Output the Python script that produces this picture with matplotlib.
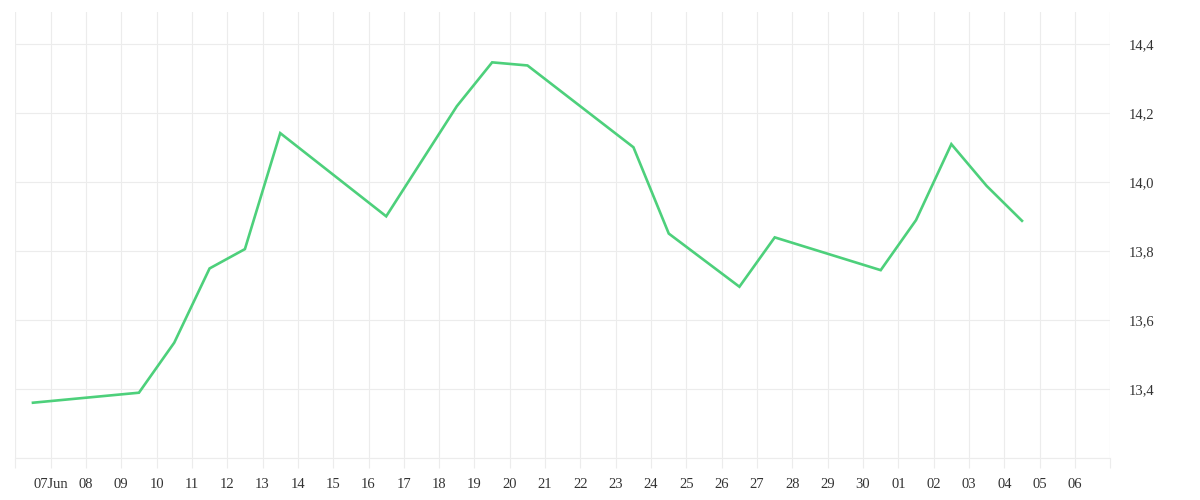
import matplotlib
matplotlib.use("Agg")
import matplotlib.pyplot as plt
import datetime as dt

# data (timestamps at mid-day)
dates = ["2024-06-06 12:00", "2024-06-09 12:00", "2024-06-10 12:00", "2024-06-11 12:00",
         "2024-06-12 12:00", "2024-06-13 12:00", "2024-06-16 12:00", "2024-06-18 12:00",
         "2024-06-19 12:00", "2024-06-20 12:00", "2024-06-23 12:00", "2024-06-24 12:00",
         "2024-06-26 12:00", "2024-06-27 12:00", "2024-06-30 12:00", "2024-07-01 12:00",
         "2024-07-02 12:00", "2024-07-03 12:00", "2024-07-04 12:00"]
values = [13.361, 13.390, 13.535, 13.750, 13.806, 14.142, 13.901, 14.220,
          14.347, 14.338, 14.101, 13.851, 13.697, 13.840, 13.745, 13.890,
          14.110, 13.989, 13.888]
y_ticks = [13.2, 13.4, 13.6, 13.8, 14.0, 14.2, 14.4]
y_tick_labels = ["", "13,4", "13,6", "13,8", "14,0", "14,2", "14,4"]

x = [dt.datetime.strptime(d, "%Y-%m-%d %H:%M") for d in dates]

start = dt.datetime(2024, 6, 6)
end = dt.datetime(2024, 7, 7)
tick_days = [start + dt.timedelta(days=i) for i in range((end - start).days + 1)]
tick_labels = []
for d in tick_days:
    if d == start or d == end:
        tick_labels.append("")
    elif d.day == 7 and d.month == 6:
        tick_labels.append("07Jun")
    else:
        tick_labels.append(d.strftime("%d"))

plt.rcParams['font.family'] = ['Liberation Serif', 'DejaVu Serif']

fig = plt.figure(figsize=(12, 5), dpi=100)
ax = fig.add_axes([15.3 / 1200, 41.7 / 500, 1095.0 / 1200, 446.0 / 500])

grid_c = "#ececec"
ax.plot(x, values, color="#4dd07b", linewidth=1.9, solid_joinstyle="miter", zorder=3)

ax.set_xlim(start, end)
ax.set_ylim(13.2, 14.492)
ax.set_xticks(tick_days)
ax.set_xticklabels(tick_labels)
ax.set_yticks(y_ticks)
ax.set_yticklabels(y_tick_labels)

ax.yaxis.tick_right()
ax.grid(True, color=grid_c, linewidth=0.8)
ax.set_axisbelow(True)
for s in ["top", "left", "right"]:
    ax.spines[s].set_visible(False)
ax.spines["bottom"].set_color(grid_c)
ax.spines["bottom"].set_linewidth(0.8)

ax.tick_params(axis="x", length=7.2, width=0.8, color=grid_c, labelsize=10.5,
               labelcolor="#333333", pad=7)
ax.tick_params(axis="y", length=0, labelsize=10.5, labelcolor="#333333", pad=13)
# extend left/right edge lines to top
ax.axvline(start, color=grid_c, linewidth=0.8, zorder=0)
ax.axvline(end, color=grid_c, linewidth=0.8, zorder=0)

fig.savefig("out.png", dpi=100, facecolor="white")
